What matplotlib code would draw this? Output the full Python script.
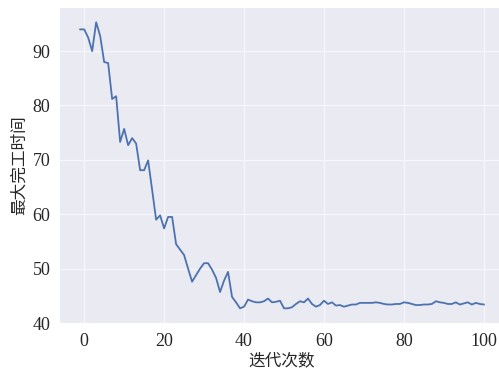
import matplotlib
matplotlib.use("Agg")
import matplotlib.pyplot as plt
import numpy as np

# Data
iterations = list(range(-1, 101))
makespan = [
    94.0, 94.0, 92.5, 90.0, 95.3, 92.8, 88.0, 87.8, 81.2, 81.7,
    73.3, 75.7, 72.7, 74.0, 73.0, 68.1, 68.1, 69.9, 64.5, 59.0,
    59.8, 57.4, 59.5, 59.5, 54.5, 53.5, 52.5, 50.0, 47.6, 48.8,
    50.0, 51.0, 51.0, 49.8, 48.3, 45.7, 47.8, 49.4, 44.8, 43.8,
    42.7, 43.0, 44.3, 44.0, 43.8, 43.8, 44.0, 44.5, 43.8, 43.9,
    44.1, 42.7, 42.7, 42.9, 43.5, 44.0, 43.8, 44.5, 43.5, 43.0,
    43.3, 44.1, 43.5, 43.8, 43.2, 43.3, 43.0, 43.2, 43.4, 43.4,
    43.7, 43.7, 43.7, 43.7, 43.8, 43.7, 43.5, 43.4, 43.4, 43.5,
    43.5, 43.8, 43.7, 43.5, 43.3, 43.3, 43.4, 43.4, 43.5, 44.0,
    43.8, 43.7, 43.5, 43.5, 43.8, 43.4, 43.6, 43.8, 43.4, 43.7,
    43.5, 43.4,
]
x_ticks = [0, 20, 40, 60, 80, 100]
y_ticks = [40, 50, 60, 70, 80, 90]
x_label = "迭代次数"
y_label = "最大完工时间"

W, H = 499, 376
fig = plt.figure(figsize=(W / 100, H / 100), dpi=100)
ax = fig.add_axes([60 / W, (H - 323) / H, 444 / W, (323 - 8) / H])
ax.set_facecolor("#EAEAF2")
for s in ax.spines.values():
    s.set_visible(False)
ax.grid(True, color="#F7F7FB", linewidth=0.9)
ax.set_axisbelow(True)

ax.plot(iterations, makespan, color="#4C72B0", linewidth=1.3)
ax.margins(x=0.05, y=0.05)

ax.set_xticks(x_ticks)
ax.set_yticks(y_ticks)
ax.tick_params(length=0, pad=7, labelsize=13, colors="#262626")
for lab in ax.get_xticklabels() + ax.get_yticklabels():
    lab.set_family("Liberation Serif")

ax.set_xlabel(x_label, family=["Noto Sans CJK SC", "DejaVu Sans"], fontsize=12, color="#262626", labelpad=2)
ax.set_ylabel(y_label, family=["Noto Sans CJK SC", "DejaVu Sans"], fontsize=12, color="#262626", labelpad=3)

fig.savefig("out.png", dpi=100)
